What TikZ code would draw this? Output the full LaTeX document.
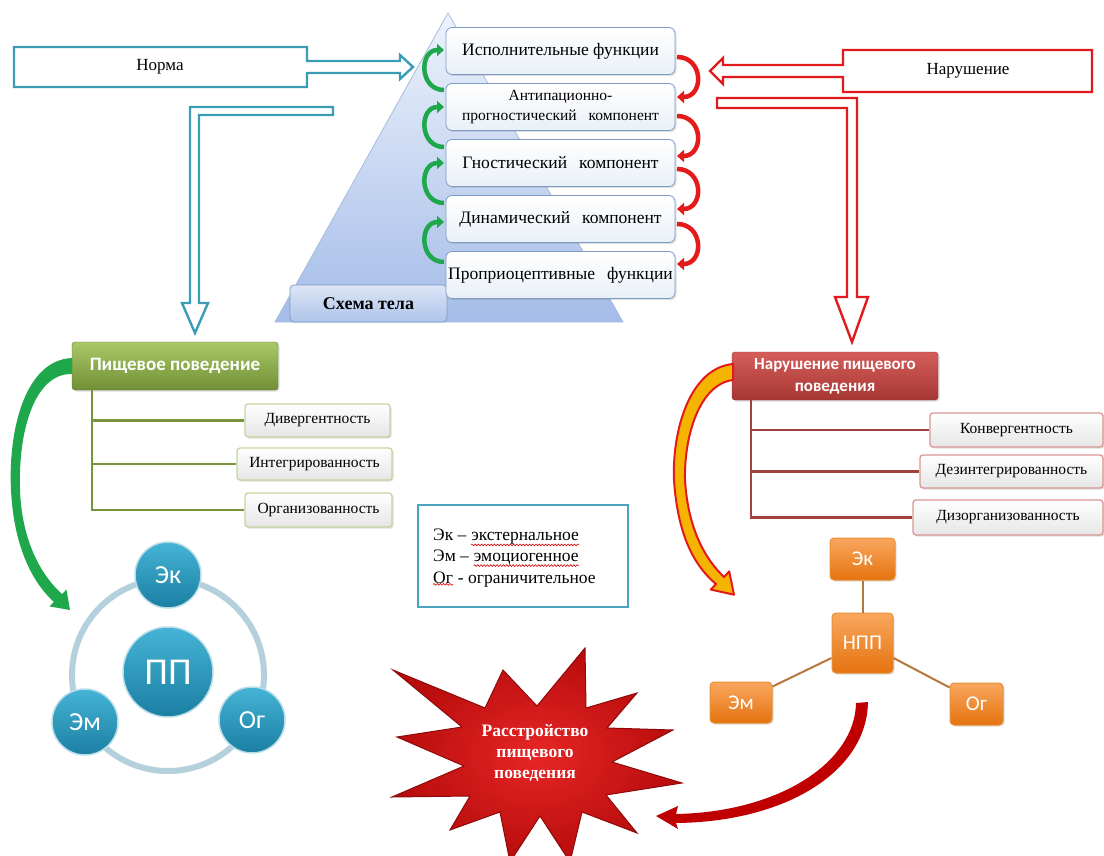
\documentclass[tikz,border=0pt]{standalone}
\usepackage{fontspec}
\setmainfont{Liberation Serif}
\newfontfamily\calib{Carlito}
\usetikzlibrary{arrows.meta,shadows,decorations.pathmorphing}

\definecolor{tealc}{HTML}{3A9DB5}
\definecolor{redc}{HTML}{E31A1C}
\definecolor{pyrtop}{HTML}{EDF3FC}
\definecolor{pyrbot}{HTML}{A4BCE8}
\definecolor{pyredge}{HTML}{A9BCDD}
\definecolor{boxedge}{HTML}{7F9CC4}
\definecolor{boxbot}{HTML}{EAF0F8}
\definecolor{bodytop}{HTML}{DCE6F6}
\definecolor{bodybot}{HTML}{AFC4EA}
\definecolor{garcc}{HTML}{1EA84B}
\definecolor{rarcc}{HTML}{E51B1B}
\definecolor{gtop}{HTML}{A9C867}
\definecolor{gbot}{HTML}{718F35}
\definecolor{gedge}{HTML}{5F7A2C}
\definecolor{gline}{HTML}{77933C}
\definecolor{gchedge}{HTML}{C3D69B}
\definecolor{rtop}{HTML}{D55E5B}
\definecolor{rbot}{HTML}{A63633}
\definecolor{redge}{HTML}{8E2C2A}
\definecolor{rline}{HTML}{A0413E}
\definecolor{rchedge}{HTML}{D99694}
\definecolor{otop}{HTML}{F9A75F}
\definecolor{obot}{HTML}{E5730F}
\definecolor{oedge}{HTML}{E89035}
\definecolor{oline}{HTML}{B8763F}
\definecolor{btop}{HTML}{45B4D6}
\definecolor{bbot}{HTML}{1B7FA2}
\definecolor{brim}{HTML}{B9DEEA}
\definecolor{ringc}{HTML}{B4D0DC}
\definecolor{legedge}{HTML}{4BA5BE}
\definecolor{starin}{HTML}{E62626}
\definecolor{starout}{HTML}{B80C0C}
\definecolor{staredge}{HTML}{8E0A0A}
\definecolor{darkarrow}{HTML}{C00000}
\definecolor{yelc}{HTML}{F5B400}

\tikzset{
  tealarrow/.style={draw=tealc, line width=2.4pt, fill=white},
  redarrow/.style={draw=redc, line width=2.4pt, fill=white},
  plain/.style={font=\fontsize{17}{20}\selectfont},
  softshadow/.style={drop shadow={opacity=0.25, shadow xshift=1.5pt, shadow yshift=-1.5pt}},
  pyrbox/.style={draw=boxedge, line width=0.8pt, rounded corners=6pt,
    top color=white, bottom color=boxbot, minimum width=229pt, minimum height=47pt,
    inner sep=2pt, align=center, font=\fontsize{17.5}{19}\selectfont, softshadow},
  bodybox/.style={draw=boxedge, line width=0.8pt, rounded corners=4pt,
    top color=bodytop, bottom color=bodybot, minimum width=157pt, minimum height=37pt,
    font=\bfseries\fontsize{18}{20}\selectfont},
  garc/.style={draw=garcc, line width=4.5pt, -{Triangle[length=7pt,width=12pt]}},
  rarc/.style={draw=rarcc, line width=4.5pt, -{Triangle[length=7pt,width=12pt]}},
  ghead/.style={draw=gedge, rounded corners=3pt, top color=gtop, bottom color=gbot,
    minimum width=206pt, minimum height=48pt, text=white,
    font=\calib\bfseries\fontsize{19}{22}\selectfont, softshadow},
  rhead/.style={draw=redge, rounded corners=3pt, top color=rtop, bottom color=rbot,
    minimum width=206pt, minimum height=48pt, text=white, align=center,
    font=\calib\bfseries\fontsize{17}{22}\selectfont, softshadow},
  gchild/.style={draw=gchedge, line width=1.3pt, rounded corners=3pt,
    top color=white, bottom color=black!10, inner sep=0pt,
    font=\fontsize{15.5}{18}\selectfont, softshadow},
  rchild/.style={draw=rchedge, line width=1.3pt, rounded corners=3pt,
    top color=white, bottom color=black!10, inner sep=0pt,
    font=\fontsize{15.5}{18}\selectfont, softshadow},
  gtree/.style={draw=gline, line width=2.2pt},
  rtree/.style={draw=rline, line width=2.2pt},
  bball/.style={circle, draw=brim, line width=1.5pt, top color=btop, bottom color=bbot,
    text=white, inner sep=0pt},
  obox/.style={draw=oedge, line width=1pt, rounded corners=4pt, top color=otop,
    bottom color=obot, text=white, inner sep=0pt,
    font=\calib\fontsize{21}{24}\selectfont, softshadow},
  olink/.style={draw=oline, line width=2pt},
  legtext/.style={inner sep=0pt, font=\fontsize{17.5}{20}\selectfont},
  wavy/.style={draw=red!85!black, line width=0.6pt, decorate,
    decoration={snake, amplitude=0.9pt, segment length=3.2pt}},
}

\begin{document}
\begin{tikzpicture}[x=1pt,y=-1pt]
\useasboundingbox (0,0) rectangle (1104,856);
\fill[white] (0,0) rectangle (1104,856);

% ---------- pyramid ----------
\shadedraw[top color=pyrtop, bottom color=pyrbot, draw=pyredge, line width=0.8pt]
  (448,13) -- (623,322) -- (275,322) -- cycle;
\node[bodybox] (body) at (368.5,303.5) {Схема тела};

\node[pyrbox] (f1) at (560.5,51)  {Исполнительные функции};
\node[pyrbox, font=\fontsize{15.5}{20}\selectfont] (f2) at (560.5,107)
  {Антипационно-\\прогностический\hspace{12pt}компонент};
\node[pyrbox] (f3) at (560.5,163) {Гностический\hspace{12pt}компонент};
\node[pyrbox] (f4) at (560.5,219) {Динамический\hspace{12pt}компонент};
\node[pyrbox] (f5) at (560.5,275) {Проприоцептивные\hspace{12pt}функции};

% green loops (upwards), red loops (downwards)
\foreach \c in {70,127,183,242}
  \draw[garc] (444,\c+20) .. controls (419,\c+20) and (419,\c-20) .. (444,\c-20);
\foreach \c in {77,136,189,244}
  \draw[rarc] (677,\c-20) .. controls (704,\c-20) and (704,\c+20) .. (677,\c+20);

% ---------- Норма ----------
\draw[tealarrow] (14,47) -- (307,47) -- (307,61) -- (400,61) -- (400,55) -- (413,67)
  -- (400,79) -- (400,73) -- (307,73) -- (307,87) -- (14,87) -- cycle;
\node[plain] (norma) at (160,67) {Норма};
\draw[tealarrow] (333,107) -- (190,107) -- (190,303) -- (182,303) -- (195,333)
  -- (208,303) -- (199,303) -- (199,115) -- (333,115) -- cycle;

% ---------- Нарушение ----------
\draw[redarrow] (1092,50) -- (843,50) -- (843,65) -- (723,65) -- (723,58) -- (710,71)
  -- (723,84) -- (723,77) -- (843,77) -- (843,92) -- (1092,92) -- cycle;
\node[plain] (narush) at (968,71) {Нарушение};
\draw[redarrow] (717,98) -- (857,98) -- (857,297) -- (868,297) -- (852,342)
  -- (835,297) -- (847,297) -- (847,108) -- (717,108) -- cycle;

% ---------- eating behaviour (left) ----------
\node[ghead] (ghd) at (175,366) {Пищевое поведение};
\node[gchild, minimum width=145pt, minimum height=33pt] (div) at (317.5,420.5) {Дивергентность};
\node[gchild, minimum width=155pt, minimum height=32pt] (integ) at (314.5,464) {Интегрированность};
\node[gchild, minimum width=147pt, minimum height=34pt] (orgz) at (318.5,510) {Организованность};
\coordinate (gstem) at ([xshift=20pt]ghd.south west);
\draw[gtree] (gstem) |- (div.west);
\draw[gtree] (gstem) |- (integ.west);
\draw[gtree] (gstem) |- (orgz.west);

% green curved arrow
\fill[garcc] (72,358) .. controls (25,360) and (8,430) .. (11,490)
  .. controls (14,552) and (36,586) .. (54,602)
  -- (49.5,606.4) -- (70,610) -- (66.5,589.6) -- (62,594)
  .. controls (44,578) and (22,545) .. (20,490)
  .. controls (18,430) and (35,373) .. (72,374) -- cycle;

% circle cluster
\draw[ringc, line width=6pt] (168,675) circle[radius=96pt];
\node[bball, minimum size=90pt, font=\calib\fontsize{38}{40}\selectfont] (pp) at (168,672) {ПП};
\node[bball, minimum size=66pt, font=\calib\fontsize{26}{28}\selectfont] (cek) at (168,575) {Эк};
\node[bball, minimum size=66pt, font=\calib\fontsize{26}{28}\selectfont] (cem) at (85,722) {Эм};
\node[bball, minimum size=66pt, font=\calib\fontsize{26}{28}\selectfont] (cog) at (252,720) {Ог};

% ---------- legend ----------
\node[draw=legedge, line width=1.5pt, minimum width=210pt, minimum height=102pt] (legend) at (523,556) {};
\node[legtext, anchor=base west] (lg1) at (433,540) {Эк~–};
\node[legtext, anchor=base west] (lg1w) at ([xshift=4.5pt]lg1.base east) {экстернальное};
\node[legtext, anchor=base west] (lg2) at (433,561) {Эм~–};
\node[legtext, anchor=base west] (lg2w) at ([xshift=4.5pt]lg2.base east) {эмоциогенное};
\node[legtext, anchor=base west] (lg3w) at (433,583) {Ог};
\node[legtext, anchor=base west] (lg3) at ([xshift=4.5pt]lg3w.base east) {-~ограничительное};
\draw[wavy] ([yshift=-1pt]lg1w.south west) -- ([yshift=-1pt]lg1w.south east);
\draw[wavy] ([yshift=-1pt]lg2w.south west) -- ([yshift=-1pt]lg2w.south east);
\draw[wavy] ([yshift=-1pt]lg3w.south west) -- ([yshift=-1pt]lg3w.south east);

% ---------- disorder of eating behaviour (right) ----------
\node[rhead] (rhd) at (835,376) {Нарушение пищевого\\поведения};
\node[rchild, minimum width=173pt, minimum height=34pt] (conv) at (1016.5,430) {Конвергентность};
\node[rchild, minimum width=183pt, minimum height=33pt] (desint) at (1011.5,471.5) {Дезинтегрированность};
\node[rchild, minimum width=190pt, minimum height=35pt] (disorg) at (1008,517.5) {Дизорганизованность};
\coordinate (rstem) at ([xshift=19pt]rhd.south west);
\draw[rtree] (rstem) |- (conv.west);
\draw[rtree] (rstem) |- (desint.west);
\draw[rtree] (rstem) |- (disorg.west);

% red-yellow curved arrow
\filldraw[fill=yelc, draw=redc, line width=2pt, line join=round]
  (733,364) .. controls (690,368) and (672,430) .. (674,480)
  .. controls (678,540) and (697,568) .. (716,584)
  -- (710.8,589.6) -- (734,594.7) -- (729.2,571.4) -- (724,577)
  .. controls (706,560) and (688,530) .. (685,480)
  .. controls (684,435) and (700,384) .. (733,380) -- cycle;

% orange cluster
\node[obox, minimum width=65pt, minimum height=42pt] (oek) at (862.5,559) {Эк};
\node[obox, minimum width=61pt, minimum height=60pt] (npp) at (862.5,643) {НПП};
\node[obox, minimum width=62pt, minimum height=41pt] (oem) at (741,702.5) {Эм};
\node[obox, minimum width=53pt, minimum height=42pt] (oog) at (976.5,704) {Ог};
\draw[olink] (oek.south) -- (npp.north);
\draw[olink] ([yshift=-15pt]npp.west) -- ([yshift=-5pt]oem.north east);
\draw[olink] ([yshift=-15pt]npp.east) -- ([yshift=-5pt]oog.north west);

% ---------- star ----------
\shadedraw[inner color=starin, outer color=starout, draw=staredge, line width=1pt, line join=miter]
  (393,670) -- (485,708) -- (503,670) -- (537,706) -- (585,648) -- (586,708)
  -- (637,693) -- (607,728) -- (673,730) -- (612,762) -- (682,783) -- (606,795)
  -- (637,833) -- (582,812) -- (570,862) -- (540,816) -- (510,862) -- (500,812)
  -- (450,830) -- (470,796) -- (392,797) -- (464,766) -- (397,737) -- (462,727) -- cycle;
\node[text=white, align=center, font=\bfseries\fontsize{17.5}{21}\selectfont] (rpp) at (535,753)
  {Расстройство\\пищевого\\поведения};

% dark red curved arrow back to the star
\fill[darkarrow] (868,702) .. controls (867,772) and (785,822) .. (676,823)
  -- (678,829) -- (656,816) -- (678,806) -- (676,814)
  .. controls (780,812) and (855,762) .. (856,703) -- cycle;
\end{tikzpicture}
\end{document}
